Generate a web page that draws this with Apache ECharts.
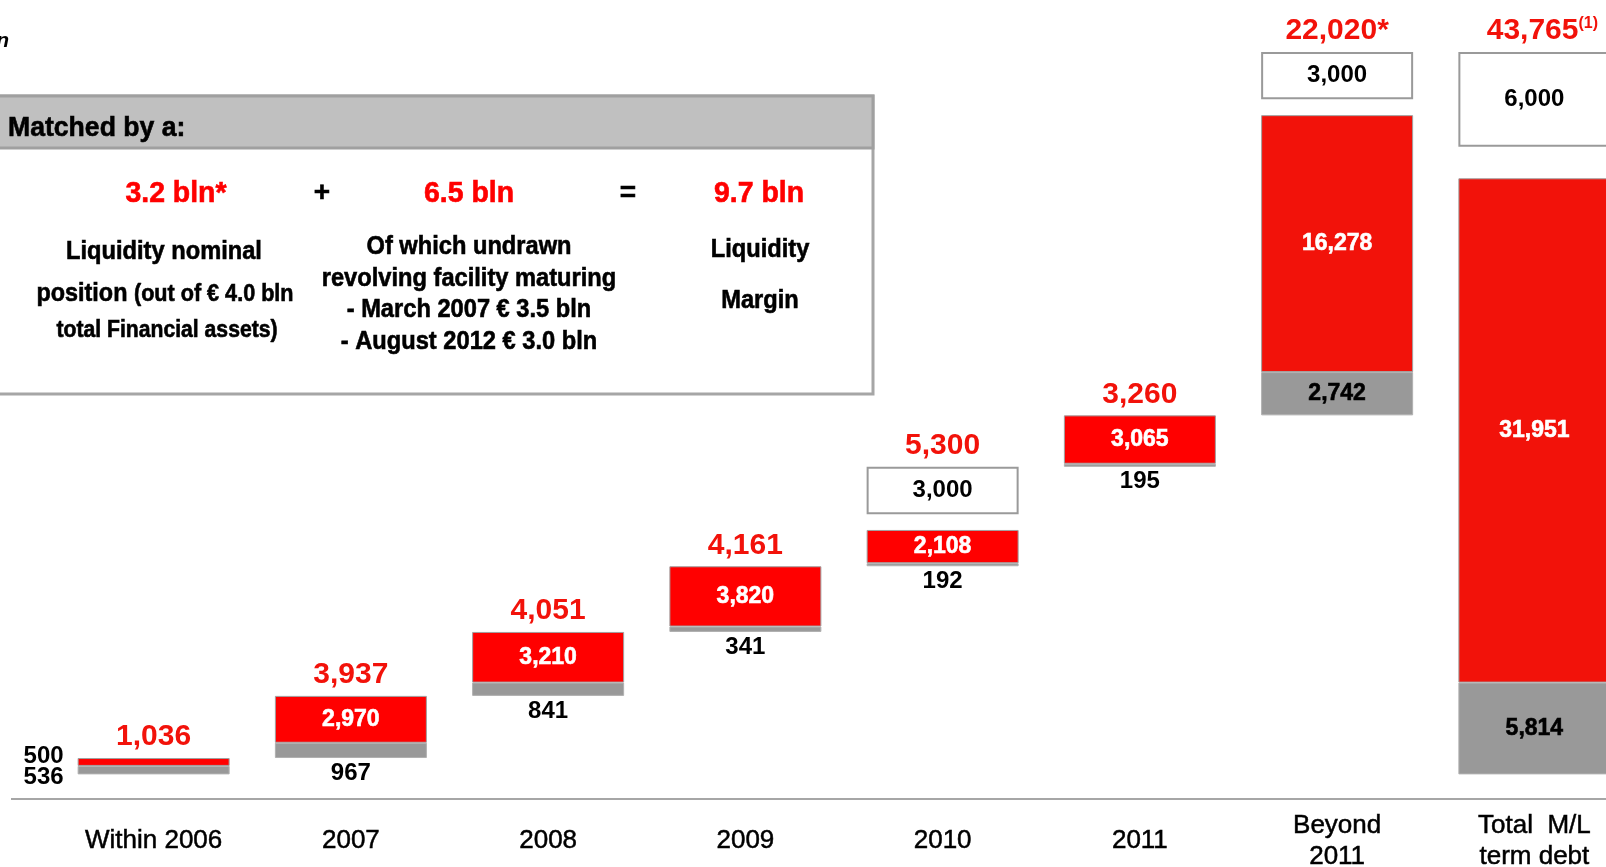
<!DOCTYPE html>
<html>
<head>
<meta charset="utf-8">
<script src="https://cdn.jsdelivr.net/npm/echarts@6/dist/echarts.min.js"></script>
<style>
  html, body { margin: 0; padding: 0; background: #fff; }
  #chart { width: 1606px; height: 867px; }
</style>
</head>
<body>
<div id="chart"></div>
<script>
// maturity profile, € mln
const categories = ['Within 2006', '2007', '2008', '2009', '2010', '2011', 'Beyond\n2011', 'Total  M/L\nterm debt'];
const grayValues = [536, 967, 841, 341, 192, 195, 2742, 5814];
const redValues = [500, 2970, 3210, 3820, 2108, 3065, 16278, 31951];
const whiteValues = [0, 0, 0, 0, 3000, 0, 3000, 6000];
const topLabels = ['1,036', '3,937', '4,051', '4,161', '5,300', '3,260', '22,020*', '43,765'];
const topNotes = ['', '', '', '', '', '', '', '(1)'];

// visual gap (value units) between the red block and the white box above it
const WHITE_GAP = [0, 0, 0, 0, 1000, 0, 1000, 2000];
const TOTAL_INDEX = categories.length - 1;

const NUM_FONT = '"Liberation Sans", Arial, sans-serif';
const RED = '#ff0000';
const RED_DARK = '#f2120a';

const fmt = v => v.toLocaleString('en-US');

// waterfall: each bar starts where the previous one ends, the total starts at 0
const baseValues = [];
let running = 0;
categories.forEach((c, i) => {
  baseValues.push(i === TOTAL_INDEX ? 0 : running);
  running += grayValues[i] + redValues[i] + whiteValues[i] + WHITE_GAP[i];
});

const numLabel = {
  show: true,
  fontFamily: NUM_FONT,
  fontWeight: 'bold',
  fontSize: 23,
  formatter: p => fmt(p.value)
};

const grayData = grayValues.map((v, i) => ({
  value: v,
  label: i === 0 ? { position: 'left', distance: 14, offset: [0, 7], fontSize: 24, color: '#000' }
    : i < 6 ? { position: 'bottom', distance: 3, fontSize: 24, color: '#000' }
    : { position: 'inside', color: '#000', textBorderColor: '#000', textBorderWidth: 0.6 }
}));

const redData = redValues.map((v, i) => ({
  value: v,
  itemStyle: { color: i >= 6 ? RED_DARK : RED },
  label: i === 0 ? { position: 'left', distance: 14, offset: [0, -6], fontSize: 24, color: '#000' }
    : { position: 'inside', color: '#fff', textBorderColor: '#fff', textBorderWidth: 0.6 }
}));

const option = {
  animation: false,
  backgroundColor: '#fff',
  grid: { left: 55, right: -27, top: 0, bottom: 68, outerBoundsMode: 'none', containLabel: false },
  xAxis: {
    type: 'category',
    data: categories,
    axisLine: { show: false },
    axisTick: { show: false },
    axisLabel: {
      color: '#000',
      fontFamily: NUM_FONT,
      fontSize: 26,
      lineHeight: 31,
      verticalAlign: 'middle',
      margin: 42,
      interval: 0,
      textBorderColor: '#000',
      textBorderWidth: 0.5
    }
  },
  yAxis: {
    type: 'value',
    min: -1560,
    max: 49060,
    show: false,
    splitLine: { show: false }
  },
  series: [
    {
      name: 'base', type: 'bar', stack: 'w', barWidth: 152, silent: true,
      itemStyle: { color: 'transparent' },
      data: baseValues
    },
    {
      name: 'gray', type: 'bar', stack: 'w', barWidth: 152,
      itemStyle: { color: '#999999', borderColor: '#b0b0b0', borderWidth: 1 },
      label: numLabel,
      data: grayData
    },
    {
      name: 'red', type: 'bar', stack: 'w', barWidth: 152,
      itemStyle: { borderColor: '#a0a0a0', borderWidth: 1 },
      label: numLabel,
      data: redData
    },
    {
      name: 'gap', type: 'bar', stack: 'w', barWidth: 152, silent: true,
      itemStyle: { color: 'transparent' },
      data: WHITE_GAP.map(v => (v ? v : null))
    },
    {
      name: 'white', type: 'bar', stack: 'w', barWidth: 152,
      itemStyle: { color: '#fff', borderColor: '#9a9a9a', borderWidth: 2 },
      label: Object.assign({}, numLabel, { position: 'inside', color: '#000', fontSize: 24 }),
      data: whiteValues.map(v => (v ? v : null))
    },
    {
      name: 'total', type: 'bar', stack: 'w', barWidth: 152, silent: true,
      itemStyle: { color: 'transparent' },
      label: {
        show: true,
        position: 'top',
        distance: 6,
        formatter: p => '{a|' + topLabels[p.dataIndex] + '}' +
          (topNotes[p.dataIndex] ? '{s|' + topNotes[p.dataIndex] + '}' : ''),
        rich: {
          a: { fontFamily: NUM_FONT, fontWeight: 'bold', fontSize: 30, color: RED_DARK },
          s: { fontFamily: NUM_FONT, fontWeight: 'bold', fontSize: 16, color: RED_DARK, verticalAlign: 'top', padding: [0, 0, 14, 0] }
        }
      },
      data: categories.map((c, i) => (topNotes[i] ? { value: 0, label: { offset: [8, 0] } } : 0))
    }
  ],
  graphic: [
    // baseline
    {
      type: 'rect', silent: true,
      shape: { x: 11, y: 798, width: 1600, height: 2 },
      style: { fill: '#a6a6a6' }
    },
    {
      type: 'text', silent: true,
      style: { text: '€ mln', x: 9, y: 41, align: 'right', verticalAlign: 'middle',
        fontFamily: NUM_FONT, fontStyle: 'italic', fontWeight: 'bold', fontSize: 21, fill: '#000' }
    },
    // "Matched by a" box
    {
      type: 'rect', silent: true,
      shape: { x: -10, y: 96, width: 883, height: 298 },
      style: { fill: '#fff', stroke: '#a6a6a6', lineWidth: 3 }
    },
    {
      type: 'rect', silent: true,
      shape: { x: -10, y: 96, width: 883, height: 52 },
      style: { fill: '#c0c0c0', stroke: '#a0a0a0', lineWidth: 3 }
    },
    boxText('Matched by a:', 8, 128, 28, '#000', 0.95, 'left'),
    boxText('3.2 bln*', 176, 194, 29, RED, 0.98),
    boxText('+', 322, 193, 28, '#000', 1),
    boxText('6.5 bln', 469, 194, 29, RED, 0.98),
    boxText('=', 628, 193, 28, '#000', 1),
    boxText('9.7 bln', 759, 194, 29, RED, 0.98),
    boxText('Liquidity nominal', 164, 252, 26, '#000', 0.91),
    {
      type: 'text', silent: true,
      x: 165, y: 294, scaleX: 0.9,
      style: {
        text: '{b|position\u00a0}{s|(out of € 4.0 bln}', x: 0, y: 0, align: 'center', verticalAlign: 'middle',
        stroke: '#000', lineWidth: 0.6,
        rich: {
          b: { fontFamily: NUM_FONT, fontWeight: 'bold', fontSize: 26, fill: '#000' },
          s: { fontFamily: NUM_FONT, fontWeight: 'bold', fontSize: 24, fill: '#000' }
        }
      }
    },
    boxText('total Financial assets)', 167, 331, 23, '#000', 0.92),
    boxText('Of which undrawn', 469, 247, 26, '#000', 0.91),
    boxText('revolving facility maturing', 469, 279, 26, '#000', 0.91),
    boxText('- March 2007 € 3.5 bln', 469, 310, 26, '#000', 0.91),
    boxText('- August 2012 € 3.0 bln', 469, 342, 26, '#000', 0.91),
    boxText('Liquidity', 760, 250, 26, '#000', 0.91),
    boxText('Margin', 760, 301, 26, '#000', 0.91)
  ]
};

// condensed bold text for the "Matched by a" panel
function boxText(text, x, y, size, color, squeeze, align) {
  return {
    type: 'text', silent: true,
    x, y, scaleX: squeeze,
    style: {
      text, x: 0, y: 0,
      align: align || 'center',
      verticalAlign: 'middle',
      fontFamily: NUM_FONT,
      fontWeight: 'bold',
      fontSize: size,
      fill: color,
      stroke: color,
      lineWidth: 0.6
    }
  };
}

const chart = echarts.init(document.getElementById('chart'), null, { renderer: 'canvas' });
chart.setOption(option);
</script>
</body>
</html>
